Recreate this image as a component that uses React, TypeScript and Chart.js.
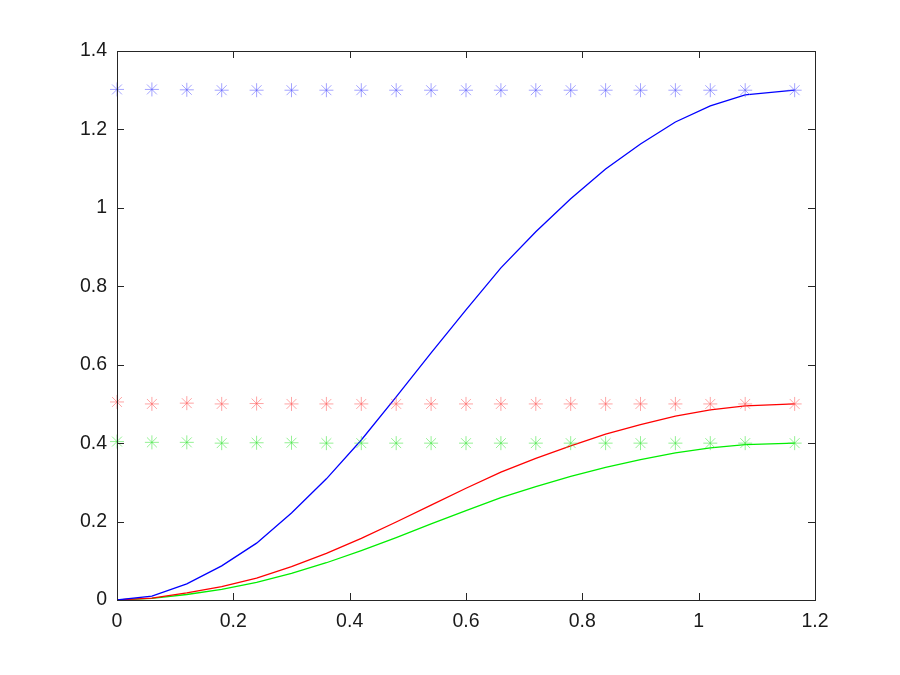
import React, { useEffect, useRef } from "react";
import { Chart, registerables } from "chart.js";

Chart.register(...registerables);

const xValues = [0, 0.06, 0.12, 0.18, 0.24, 0.3, 0.36, 0.42, 0.48, 0.54, 0.6, 0.66, 0.72, 0.78, 0.84, 0.9, 0.96, 1.02, 1.08, 1.165];
const blueLine = [0, 0.010, 0.041, 0.087, 0.145, 0.222, 0.309, 0.408, 0.518, 0.630, 0.740, 0.847, 0.939, 1.023, 1.099, 1.163, 1.219, 1.260, 1.288, 1.300];
const redLine = [0, 0.005, 0.018, 0.034, 0.056, 0.085, 0.119, 0.157, 0.199, 0.242, 0.285, 0.326, 0.361, 0.393, 0.423, 0.447, 0.469, 0.485, 0.495, 0.500];
const greenLine = [0, 0.004, 0.014, 0.027, 0.045, 0.068, 0.095, 0.126, 0.159, 0.194, 0.228, 0.261, 0.289, 0.315, 0.338, 0.358, 0.375, 0.388, 0.396, 0.400];
const blueMarks = [1.302, 1.302, 1.301, 1.3, 1.3, 1.3, 1.3, 1.3, 1.3, 1.3, 1.3, 1.3, 1.3, 1.3, 1.3, 1.3, 1.3, 1.3, 1.3, 1.3];
const redMarks = [0.505, 0.5, 0.502, 0.5, 0.501, 0.5, 0.5, 0.5, 0.5, 0.5, 0.5, 0.5, 0.5, 0.5, 0.5, 0.5, 0.5, 0.5, 0.5, 0.5];
const greenMarks = [0.404, 0.402, 0.402, 0.4, 0.401, 0.401, 0.4, 0.4, 0.4, 0.4, 0.4, 0.4, 0.4, 0.4, 0.4, 0.4, 0.4, 0.4, 0.4, 0.4];

const xTicks = [0, 0.2, 0.4, 0.6, 0.8, 1, 1.2];
const yTicks = [0, 0.2, 0.4, 0.6, 0.8, 1, 1.2, 1.4];

const toPts = (ys: number[]) => xValues.map((x, i) => ({ x, y: ys[i] }));

const AX = "#262626";

const boxPlugin = {
  id: "matlabBox",
  afterDraw(chart: any) {
    const { ctx, chartArea: a, scales } = chart;
    ctx.save();
    ctx.strokeStyle = AX;
    ctx.lineWidth = 1;
    ctx.strokeRect(Math.round(a.left) + 0.5, Math.round(a.top) + 0.5, Math.round(a.right - a.left), Math.round(a.bottom - a.top));
    const L = 7;
    ctx.beginPath();
    xTicks.forEach((v) => {
      const px = Math.round(scales.x.getPixelForValue(v)) + 0.5;
      ctx.moveTo(px, a.bottom);
      ctx.lineTo(px, a.bottom - L);
      ctx.moveTo(px, a.top);
      ctx.lineTo(px, a.top + L);
    });
    yTicks.forEach((v) => {
      const py = Math.round(scales.y.getPixelForValue(v)) + 0.5;
      ctx.moveTo(a.left, py);
      ctx.lineTo(a.left + L, py);
      ctx.moveTo(a.right, py);
      ctx.lineTo(a.right - L, py);
    });
    ctx.stroke();
    ctx.restore();
  },
};

const fmt = (v: any) => String(Math.round(Number(v) * 10) / 10);

export default function App() {
  const ref = useRef<HTMLCanvasElement>(null);
  useEffect(() => {
    document.body.style.margin = "0";
    const markerDs = (data: number[], color: string) => ({
      data: toPts(data),
      showLine: false,
      pointStyle: "star",
      pointRadius: 7,
      pointBorderWidth: 1,
      borderColor: color,
      backgroundColor: color,
      pointBorderColor: color,
      clip: false,
    });
    const lineDs = (data: number[], color: string) => ({
      data: toPts(data),
      showLine: true,
      pointRadius: 0,
      borderWidth: 1.3,
      borderColor: color,
      backgroundColor: color,
      tension: 0,
    });
    const chart = new Chart(ref.current!, {
      type: "scatter",
      data: {
        datasets: [
          markerDs(blueMarks, "rgba(90,90,255,0.55)"),
          markerDs(redMarks, "rgba(255,90,90,0.55)"),
          markerDs(greenMarks, "rgba(60,230,60,0.55)"),
          lineDs(blueLine, "#0000ff"),
          lineDs(redLine, "#ff0000"),
          lineDs(greenLine, "#00ee00"),
        ] as any,
      },
      options: {
        animation: false,
        responsive: false,
        layout: { padding: { top: 51, right: 85, left: 0, bottom: 0 } },
        plugins: { legend: { display: false }, tooltip: { enabled: false } },
        scales: {
          x: {
            type: "linear",
            min: 0,
            max: 1.2,
            afterBuildTicks: (s: any) => { s.ticks = xTicks.map((v) => ({ value: v })); },
            afterFit: (s: any) => { s.height = 75; },
            grid: { display: false, drawTicks: false },
            border: { display: false },
            ticks: { color: "#1a1a1a", font: { family: "Liberation Sans, Arial", size: 19.5 }, padding: 10, callback: fmt },
          },
          y: {
            type: "linear",
            min: 0,
            max: 1.4,
            afterBuildTicks: (s: any) => { s.ticks = yTicks.map((v) => ({ value: v })); },
            afterFit: (s: any) => { s.width = 117; },
            grid: { display: false, drawTicks: false },
            border: { display: false },
            ticks: { color: "#1a1a1a", font: { family: "Liberation Sans, Arial", size: 19.5 }, padding: 10, callback: fmt },
          },
        },
      },
      plugins: [boxPlugin],
    });
    return () => chart.destroy();
  }, []);
  return (
    <div style={{ width: 900, height: 675, background: "#fff" }}>
      <canvas ref={ref} width={900} height={675} />
    </div>
  );
}
